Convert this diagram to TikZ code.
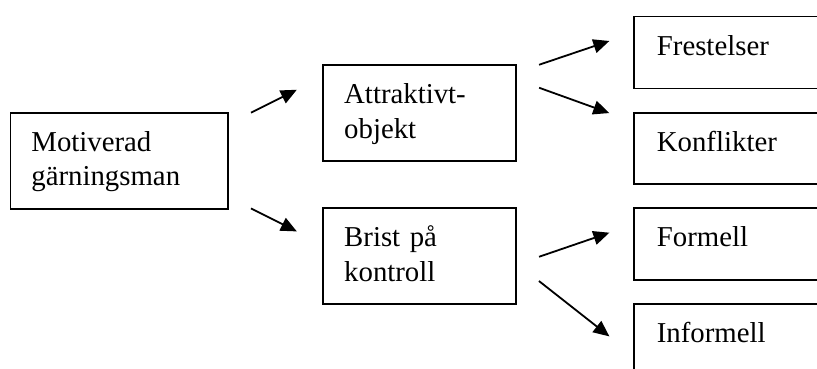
\documentclass[tikz,border=0pt]{standalone}
\usepackage{fontspec}
\setmainfont{Liberation Serif}
\usetikzlibrary{arrows.meta}
\tikzset{
  box/.style={draw, line width=1.8pt, inner xsep=21pt, inner ysep=0pt,
    text height=38.5pt, align=left, anchor=north west,
    font=\fontsize{28.8}{34.5}\selectfont},
  endbox/.style={box, inner xsep=22.7pt, text width=180pt, text depth=33.5pt},
  arr/.style={line width=1.8pt, -{Triangle[length=16pt,width=14pt]}}
}
\begin{document}
\begin{tikzpicture}[x=1pt,y=-1pt]
\useasboundingbox (0,0) rectangle (817,369);
\clip (0,0) rectangle (817,369);

% Left-hand box
\node[box, text width=175.2pt, text depth=57.5pt] (mot) at (9.5,111.7) {Motiverad\\gärningsman};

% Middle boxes
\node[box, text width=150.7pt, text depth=57.5pt] (attr) at (322.3,64.3) {Attraktivt-\\objekt};
\node[box, text width=150.7pt, text depth=57.5pt] (brist) at (322.3,207.3) {Brist på\\kontroll};

% Right-hand boxes (cut by the page edge)
\node[endbox] (fres) at (633.3,15.7) {Frestelser};
\node[endbox, text depth=32.5pt] (konf) at (633.3,112.3) {Konflikter};
\node[endbox] (form) at (633.3,207.3) {Formell};
\node[endbox] (inf) at (633.3,303.3) {Informell};

% Arrows
\draw[arr, shorten <=25.2pt, shorten >=28.5pt] ([yshift=36.6pt]mot.east) -- ([yshift=36.2pt]attr.west);
\draw[arr, shorten <=25.2pt, shorten >=28.5pt] ([yshift=-36.5pt]mot.east) -- ([yshift=12pt]brist.west);
\draw[arr, shorten <=23.5pt, shorten >=25.3pt] ([yshift=40.9pt]attr.east) -- ([yshift=19.7pt]fres.west);
\draw[arr, shorten <=23.7pt, shorten >=25.5pt] ([yshift=33.5pt]attr.east) -- ([yshift=27pt]konf.west);
\draw[arr, shorten <=23.5pt, shorten >=25.3pt] ([yshift=-8.2pt]brist.east) -- ([yshift=19.7pt]form.west);
\draw[arr, shorten <=28.2pt, shorten >=30.4pt] ([yshift=-7.4pt]brist.east) -- ([yshift=-15pt]inf.west);
\end{tikzpicture}
\end{document}
